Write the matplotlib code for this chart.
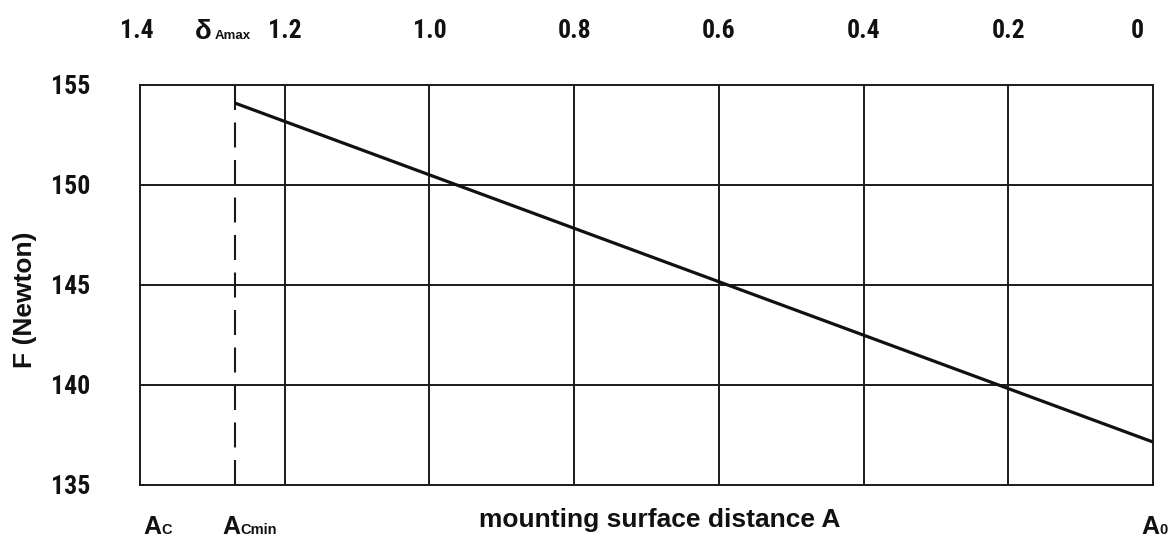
import matplotlib
matplotlib.use("Agg")
import matplotlib.pyplot as plt
from matplotlib import font_manager
from matplotlib.transforms import ScaledTranslation

# data
delta_ticks = [1.4, 1.2, 1.0, 0.8, 0.6, 0.4, 0.2, 0.0]
delta_labels = ["1.4", "1.2", "1.0", "0.8", "0.6", "0.4", "0.2", "0"]
f_ticks = [135, 140, 145, 150, 155]
delta_amax = 1.269
line_delta = [1.269, 0.0]
line_force = [154.1, 137.15]

names = {f.name for f in font_manager.fontManager.ttflist}
cond = [n for n in ["Roboto Condensed", "Liberation Sans Narrow", "DejaVu Sans Condensed", "Roboto"] if n in names]
tick_family = cond + ["DejaVu Sans"]

fig = plt.figure(figsize=(11.68, 5.4), dpi=100)
ax = fig.add_axes([140/1168, 55/540, 1013/1168, 400/540])
ax.set_xlim(1.4, 0.0)
ax.set_ylim(135, 155)

gridc = '#1a1a1a'
for x in [1.2, 1.0, 0.8, 0.6, 0.4, 0.2]:
    ax.axvline(x, color=gridc, lw=1.4, zorder=1)
for y in [140, 145, 150]:
    ax.axhline(y, color=gridc, lw=1.4, zorder=1)
ax.axvline(delta_amax, color=gridc, lw=1.5, dashes=[12, 6], zorder=1)
ax.plot(line_delta, line_force, color='#111111', lw=2.3, solid_capstyle='butt', zorder=3)

for s in ax.spines.values():
    s.set_linewidth(1.4)
    s.set_color(gridc)

# top axis ticks
ax.xaxis.tick_top()
ax.set_xticks(delta_ticks)
ax.set_xticklabels(delta_labels)
ax.tick_params(axis='x', length=0, pad=30)
ax.set_yticks(f_ticks)
ax.set_yticklabels([str(v) for v in f_ticks])
ax.tick_params(axis='y', length=0, pad=36)
for lab in ax.get_xticklabels() + ax.get_yticklabels():
    lab.set_family(tick_family)
    lab.set_fontweight('bold')
    lab.set_fontsize(18.5)
    lab.set_color('#111111')
xl = ax.get_xticklabels()
xl[-1].set_transform(xl[-1].get_transform() + ScaledTranslation(-16/100, 0, fig.dpi_scale_trans))
xl[0].set_transform(xl[0].get_transform() + ScaledTranslation(-3/100, 0, fig.dpi_scale_trans))

kw = dict(fontweight='bold', family='Liberation Sans', color='#111111', va='baseline')
H = 540.0
W = 1168.0

# delta_Amax label
fig.text(195/W, 1 - 39/H, "δ", ha='left', fontsize=20, **kw)
fig.text(215/W, 1 - 39/H, "Amax", ha='left', fontsize=9.5, **kw)

# bottom labels: big A with smaller subscript on same baseline
def a_label(x0, sub):
    fig.text(x0/W, 1 - 534/H, "A", ha='left', fontsize=18, **kw)
    fig.text((x0 + 18)/W, 1 - 534/H, sub, ha='left', fontsize=10.5, **kw)

a_label(143, "C")
a_label(222, "Cmin")
a_label(1141, "0")

fig.text(660/W, 1 - 527/H, "mounting surface distance A", ha='center', fontsize=19, **kw)
fig.text(25/W, 1 - 300/H, "F (Newton)", ha='center', va='center', rotation=90,
         fontsize=19, fontweight='bold', family='Liberation Sans', color='#111111')

fig.savefig("out.png", dpi=100)
